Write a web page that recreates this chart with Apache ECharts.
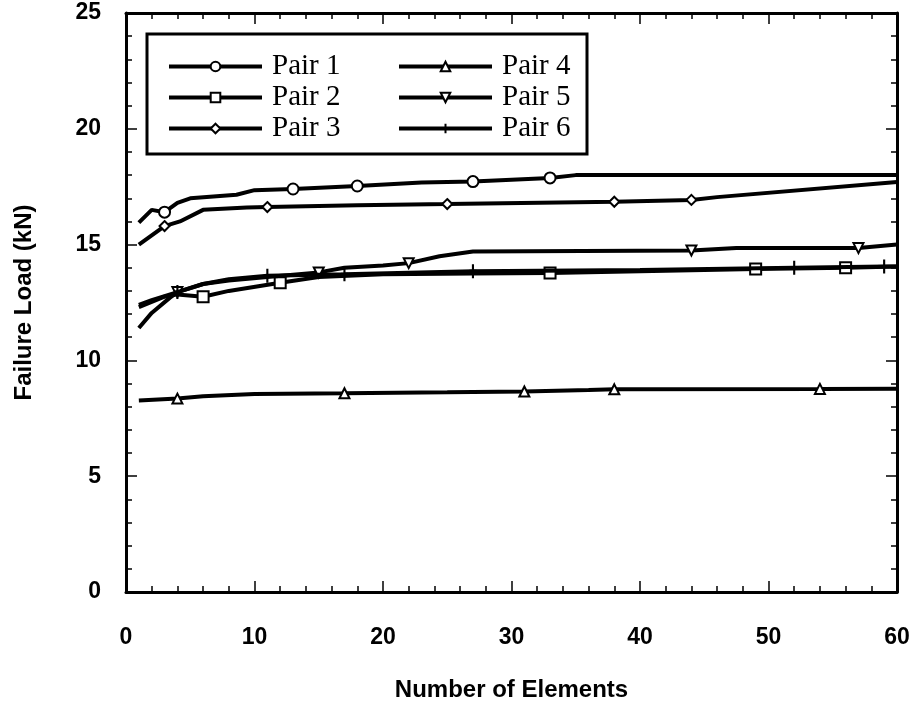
<!DOCTYPE html>
<html><head><meta charset="utf-8">
<script src="https://cdn.jsdelivr.net/npm/echarts@6/dist/echarts.min.js"></script>
<style>html,body{margin:0;padding:0;background:#fff}#c{width:919px;height:709px}</style>
</head><body><div id="c"></div>
<script>
const seriesNames = ['Pair 1','Pair 2','Pair 3','Pair 4','Pair 5','Pair 6'];
const xTicks = [0,10,20,30,40,50,60];
const yTicks = [0,5,10,15,20,25];

const pair1 = [[1,15.95],[2,16.5],[3,16.4],[4,16.8],[5,17.0],[8.6,17.15],[10,17.35],[13,17.4],[18,17.53],[23,17.68],[27,17.72],[33,17.88],[35,18.0],[60,18.0]];
const pair1Marks = [3,13,18,27,33];
const pair2 = [[1,12.3],[3,12.75],[4,12.85],[6,12.75],[8,13.0],[12,13.35],[15,13.6],[20,13.72],[27,13.75],[33,13.77],[40,13.85],[49,13.95],[56,14.0],[60,14.05]];
const pair2Marks = [6,12,33,49,56];
const pair3 = [[1,15.0],[3,15.8],[4.2,16.0],[6,16.5],[9.4,16.6],[11,16.62],[18,16.7],[25,16.75],[38,16.85],[44,16.93],[46,17.05],[60,17.7]];
const pair3Marks = [3,11,25,38,44];
const pair4 = [[1,8.27],[4,8.35],[6,8.45],[10,8.55],[17,8.58],[25,8.62],[31,8.66],[36,8.72],[38,8.75],[54,8.77],[60,8.78]];
const pair4Marks = [4,17,31,38,54];
const pair5 = [[1,11.4],[2,12.05],[3.4,12.7],[4,12.95],[6,13.3],[8,13.45],[11,13.6],[15,13.8],[17,14.0],[20,14.1],[22,14.2],[24.4,14.5],[27,14.7],[44,14.75],[47.5,14.85],[57,14.85],[60,15.0]];
const pair5Marks = [4,15,22,44,57];
const pair6 = [[1,12.4],[2,12.6],[4,12.95],[6,13.3],[8,13.5],[11,13.65],[17,13.72],[27,13.85],[40,13.9],[52,14.0],[59,14.05],[60,14.05]];
const pair6Marks = [4,11,17,27,52,59];

const allData = [pair1,pair2,pair3,pair4,pair5,pair6];
const allMarks = [pair1Marks,pair2Marks,pair3Marks,pair4Marks,pair5Marks,pair6Marks];
const symbols = ['circle','rect','diamond','triangle','path://M0,0 L10,0 L5,10 Z','path://M5,0 L5,14 M0,7 L10,7'];
const sizes = [11,11,10,10,10,[10,14]];

const series = seriesNames.map((name,i)=>({
  name, type:'line', symbol:symbols[i], symbolSize:sizes[i], symbolKeepAspect:true, showSymbol:true,
  data: allData[i].map(p => allMarks[i].includes(p[0]) ? {value:p} : {value:p, symbol:'none'}),
  lineStyle:{color:'#000', width:4},
  itemStyle: i===5 ? {color:'none', borderColor:'#000', borderWidth:2.5} : {color:'#fff', borderColor:'#000', borderWidth:2},
  color:'#000', z: 2+i
}));

const labelFont = {fontFamily:'Liberation Sans', fontWeight:'bold', fontSize:23, color:'#000'};
const nameFont = {fontFamily:'Liberation Sans', fontWeight:'bold', fontSize:24, color:'#000'};
function ax(extra){
  return Object.assign({
    axisLine:{show:true, onZero:false, lineStyle:{color:'#000', width:3}},
    axisTick:{show:true, inside:true, length:11, lineStyle:{color:'#000', width:1.5}},
    minorTick:{show:true, splitNumber:5, length:6, lineStyle:{color:'#000', width:1.5}},
    splitLine:{show:false}, minorSplitLine:{show:false}
  }, extra);
}

const legendText = {fontFamily:'Liberation Serif', fontSize:29, color:'#000', lineHeight:24, padding:[0,0,0,5]};
const chart = echarts.init(document.getElementById('c'));
chart.setOption({
  animation:false,
  backgroundColor:'#fff',
  grid:{left:126, right:22, top:13, bottom:117},
  xAxis:[
    ax({type:'value', min:0, max:60, interval:10, position:'bottom',
      name:'Number of Elements', nameLocation:'middle', nameGap:86, nameTextStyle:nameFont,
      axisLabel:Object.assign({margin:34, formatter:v=>xTicks.includes(v)?String(v):''}, labelFont)}),
    ax({type:'value', min:0, max:60, interval:10, position:'top', axisLabel:{show:false}})
  ],
  yAxis:[
    ax({type:'value', min:0, max:25, interval:5, position:'left',
      name:'Failure Load (kN)', nameLocation:'middle', nameGap:90, nameTextStyle:nameFont,
      axisLabel:Object.assign({margin:25, padding:[8,0,0,0], formatter:v=>yTicks.includes(v)?String(v):''}, labelFont)}),
    ax({type:'value', min:0, max:25, interval:5, position:'right', axisLabel:{show:false}})
  ],
  legend:[
    {data:['Pair 1','Pair 2','Pair 3'], orient:'vertical', left:167, top:52, padding:0, itemWidth:93, itemHeight:12, itemGap:2,
     lineStyle:{width:4}, textStyle:legendText},
    {data:['Pair 4','Pair 5','Pair 6'], orient:'vertical', left:397, top:52, padding:0, itemWidth:93, itemHeight:12, itemGap:2,
     lineStyle:{width:4}, textStyle:legendText}
  ],
  graphic:[{type:'rect', shape:{x:147, y:34, width:440, height:120}, style:{fill:'none', stroke:'#000', lineWidth:3}, z:100}],
  series
});
</script></body></html>
